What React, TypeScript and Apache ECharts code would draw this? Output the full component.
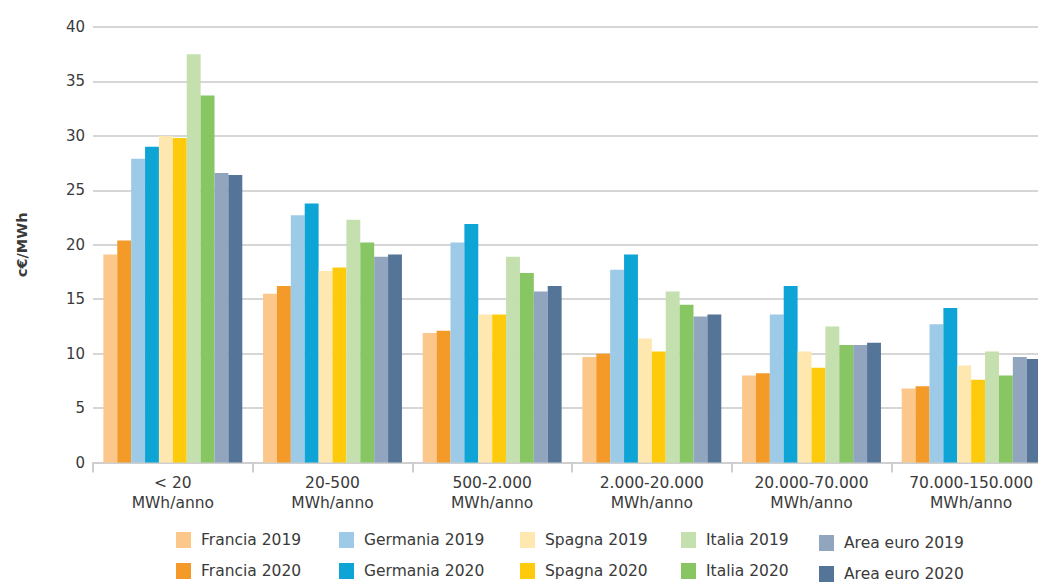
import React, { useEffect, useRef } from "react";
import * as echarts from "echarts";

// Consumption bands (x-axis categories)
const categories = [
  "< 20\nMWh/anno",
  "20-500\nMWh/anno",
  "500-2.000\nMWh/anno",
  "2.000-20.000\nMWh/anno",
  "20.000-70.000\nMWh/anno",
  "70.000-150.000\nMWh/anno",
];

// Prices in c€/MWh per band
const francia2019 = [19.1, 15.5, 11.9, 9.7, 8.0, 6.8];
const francia2020 = [20.4, 16.2, 12.1, 10.0, 8.2, 7.0];
const germania2019 = [27.9, 22.7, 20.2, 17.7, 13.6, 12.7];
const germania2020 = [29.0, 23.8, 21.9, 19.1, 16.2, 14.2];
const spagna2019 = [30.0, 17.6, 13.6, 11.4, 10.2, 8.9];
const spagna2020 = [29.8, 17.9, 13.6, 10.2, 8.7, 7.6];
const italia2019 = [37.5, 22.3, 18.9, 15.7, 12.5, 10.2];
const italia2020 = [33.7, 20.2, 17.4, 14.5, 10.8, 8.0];
const areaEuro2019 = [26.6, 18.9, 15.7, 13.4, 10.8, 9.7];
const areaEuro2020 = [26.4, 19.1, 16.2, 13.6, 11.0, 9.5];

const yTicks = { min: 0, max: 40, interval: 5 };

const seriesDefs = [
  { name: "Francia 2019", data: francia2019, color: "#FCC78B" },
  { name: "Francia 2020", data: francia2020, color: "#F39A28" },
  { name: "Germania 2019", data: germania2019, color: "#9CCAE7" },
  { name: "Germania 2020", data: germania2020, color: "#0EA4D5" },
  { name: "Spagna 2019", data: spagna2019, color: "#FEE8B0" },
  { name: "Spagna 2020", data: spagna2020, color: "#FECB0C" },
  { name: "Italia 2019", data: italia2019, color: "#C4E0AE" },
  { name: "Italia 2020", data: italia2020, color: "#88C664" },
  { name: "Area euro 2019", data: areaEuro2019, color: "#91A5BE" },
  { name: "Area euro 2020", data: areaEuro2020, color: "#547597" },
];

const FONT = "'DejaVu Sans', sans-serif";
const TEXT = "#3a3a3a";

// One vertical legend block per country: 2019 above 2020
const legendColumns = [
  { left: 176, top: 532, items: ["Francia 2019", "Francia 2020"] },
  { left: 339, top: 532, items: ["Germania 2019", "Germania 2020"] },
  { left: 520, top: 532, items: ["Spagna 2019", "Spagna 2020"] },
  { left: 681, top: 532, items: ["Italia 2019", "Italia 2020"] },
  { left: 819, top: 535, items: ["Area euro 2019", "Area euro 2020"] },
];

export default function App() {
  const ref = useRef<HTMLDivElement>(null);

  useEffect(() => {
    if (!ref.current) return;
    const chart = echarts.init(ref.current, undefined, { renderer: "svg" });
    chart.setOption({
      animation: false,
      backgroundColor: "#ffffff",
      // the plot runs a little past the right edge of the canvas
      grid: {
        left: 93,
        top: 27,
        width: 958,
        height: 435.5,
        containLabel: false,
        outerBoundsMode: "none",
      },
      legend: legendColumns.map((col) => ({
        orient: "vertical",
        left: col.left,
        top: col.top,
        padding: 0,
        itemGap: 15,
        itemWidth: 15,
        itemHeight: 16,
        icon: "rect",
        selectedMode: false,
        data: col.items,
        textStyle: {
          fontFamily: FONT,
          fontSize: 15.5,
          color: TEXT,
          padding: [0, 0, 0, 5],
        },
      })),
      xAxis: {
        type: "category",
        data: categories,
        axisLine: { lineStyle: { color: "#cfcfcf", width: 2 } },
        axisTick: { show: true, length: 10, lineStyle: { color: "#cfcfcf", width: 2 } },
        axisLabel: {
          interval: 0,
          margin: 10,
          fontFamily: FONT,
          fontSize: 15.5,
          lineHeight: 20,
          color: TEXT,
        },
      },
      yAxis: {
        type: "value",
        min: yTicks.min,
        max: yTicks.max,
        interval: yTicks.interval,
        name: "c€/MWh",
        nameLocation: "middle",
        nameGap: 64,
        nameRotate: 90,
        nameTextStyle: {
          fontFamily: FONT,
          fontSize: 14.5,
          fontWeight: "bold",
          color: TEXT,
        },
        axisLine: { show: false },
        axisTick: { show: false },
        axisLabel: { margin: 8, fontFamily: FONT, fontSize: 15, color: TEXT },
        splitLine: { lineStyle: { color: "#d6d6d6", width: 2 } },
      },
      series: seriesDefs.map((s) => ({
        type: "bar",
        name: s.name,
        data: s.data,
        barGap: "0%",
        barCategoryGap: "13%",
        itemStyle: { color: s.color },
      })),
    });
    return () => chart.dispose();
  }, []);

  return (
    <div
      ref={ref}
      style={{ position: "absolute", left: 0, top: 0, width: 1038, height: 582, background: "#fff" }}
    />
  );
}
